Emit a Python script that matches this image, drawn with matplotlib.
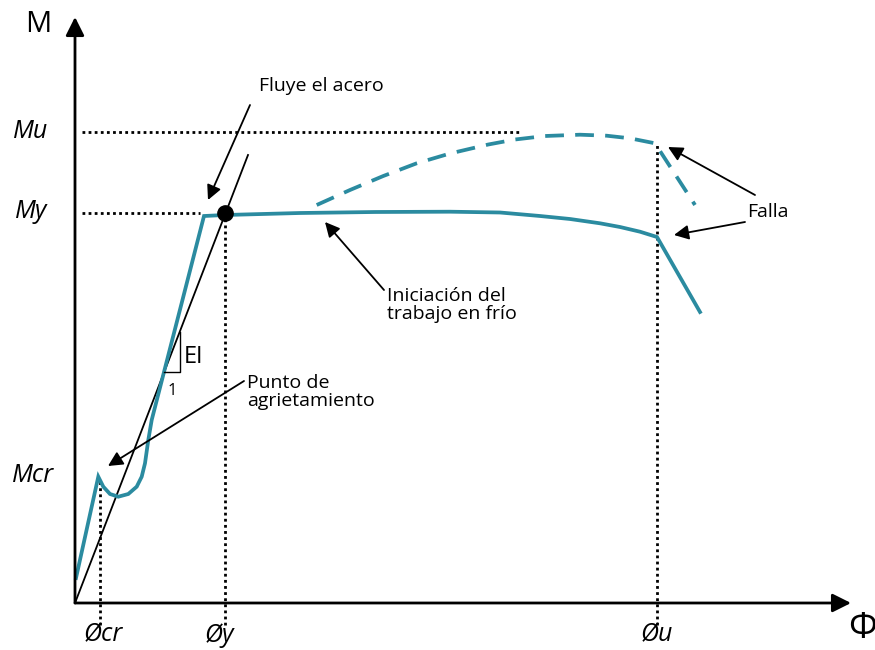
import matplotlib.pyplot as plt

plt.rcParams['font.family'] = ['Open Sans', 'DejaVu Sans']

TEAL = '#2b8ba0'

# moment-curvature curve (schematic units: phi, M)
phi_curve = [1, 23.3, 28.3, 35, 43.3, 53.3, 61.7, 66.7, 70, 73.3, 76.7, 129, 150, 225, 300,
             375, 425, 465, 495, 525, 545, 565, 582, 625]
m_curve = [25, 126.3, 116.3, 109, 106.3, 109, 116.3, 126.3, 139.7, 163, 183, 387, 388, 390, 391,
           391.3, 390.5, 387, 384, 379.7, 376, 371.3, 366, 291]

# strain hardening branch (dashed)
phi_hard = [241.7, 275, 308.3, 341.7, 375, 413.3, 440, 470, 505, 531.7, 555, 580, 620]
m_hard = [398, 413, 427, 439.7, 449.5, 458.5, 463.5, 467, 468.3, 467.3, 464.7, 459.7, 398]

# EI line
phi_ei = [0, 173]
m_ei = [0, 448]

# key points
phi_cr, m_cr = 25, 128
phi_y, m_y = 150, 390
phi_u, m_u = 582, 471


def main():
    fig = plt.figure(figsize=(8.75, 6.5), dpi=100)
    ax = fig.add_axes([0, 0, 1, 1])
    ax.set_xlim(-75, 800)
    ax.set_ylim(-47, 603)
    ax.axis('off')

    # axes with arrows
    ax.annotate('', xy=(0, 586), xytext=(0, 0),
                arrowprops=dict(arrowstyle='-|>', mutation_scale=28, lw=2, color='black',
                                shrinkA=0, shrinkB=0))
    ax.annotate('', xy=(776, 0), xytext=(0, 0),
                arrowprops=dict(arrowstyle='-|>', mutation_scale=28, lw=2, color='black',
                                shrinkA=0, shrinkB=0))

    # dotted guides
    dot = dict(color='black', lw=2, linestyle=(0, (1, 1.2)))
    ax.plot([7, 447], [m_u, m_u], **dot)
    ax.plot([7, 125], [m_y, m_y], **dot)
    ax.plot([phi_cr, phi_cr], [-22, m_cr - 4], **dot)
    ax.plot([phi_y, phi_y], [-22, m_y - 4], **dot)
    ax.plot([phi_u, phi_u], [-22, m_hard[-2]], **dot)

    # curves
    ax.plot(phi_ei, m_ei, color='black', lw=1.3)
    ax.plot(phi_curve, m_curve, color=TEAL, lw=2.7, solid_joinstyle='miter')
    ax.plot(phi_hard, m_hard, color=TEAL, lw=2.7, linestyle=(0, (5, 3)))
    ax.plot(phi_y, m_y, 'o', color='black', markersize=11)

    # slope triangle
    ax.plot([89, 105, 105], [231, 231, 271], color='black', lw=1)
    ax.text(109, 246, 'EI', fontsize=17, va='center', ha='left')
    ax.text(97, 212, '1', fontsize=12, va='center', ha='center')

    # annotations
    fs = 14
    arr = dict(arrowstyle='-|>', mutation_scale=22, lw=1.3, color='black', shrinkA=0, shrinkB=0)
    ax.text(184, 517, 'Fluye el acero', fontsize=fs, va='center', ha='left')
    ax.annotate('', xy=(133, 403), xytext=(175, 498), arrowprops=arr)
    ax.text(312, 298, 'Iniciación del\ntrabajo en frío', fontsize=fs, va='center', ha='left',
            linespacing=0.95)
    ax.annotate('', xy=(250, 381), xytext=(309, 313), arrowprops=arr)
    ax.text(172, 211, 'Punto de\nagrietamiento', fontsize=fs, va='center', ha='left',
            linespacing=0.95)
    ax.annotate('', xy=(33, 137), xytext=(169, 222), arrowprops=arr)
    ax.text(672, 391, 'Falla', fontsize=fs, va='center', ha='left')
    ax.annotate('', xy=(593, 456), xytext=(680, 408), arrowprops=arr)
    ax.annotate('', xy=(599, 368), xytext=(670, 381), arrowprops=arr)

    # axis labels
    ax.text(-37, 578, 'M', fontsize=21, va='center', ha='center')
    ax.text(787, -26, 'Φ', fontsize=26, va='center', ha='center')
    lab = dict(fontsize=18, style='italic', va='center', ha='center')
    ax.text(-44, m_u, 'Mu', **lab)
    ax.text(-44, m_y + 2, 'My', **lab)
    ax.text(-42, m_cr, 'Mcr', **lab)
    ax.text(phi_cr + 3, -32, 'Øcr', **lab)
    ax.text(phi_y - 6, -32, 'Øy', **lab)
    ax.text(phi_u, -32, 'Øu', **lab)

    fig.savefig('out.png', dpi=100)


if __name__ == "__main__":
    main()
